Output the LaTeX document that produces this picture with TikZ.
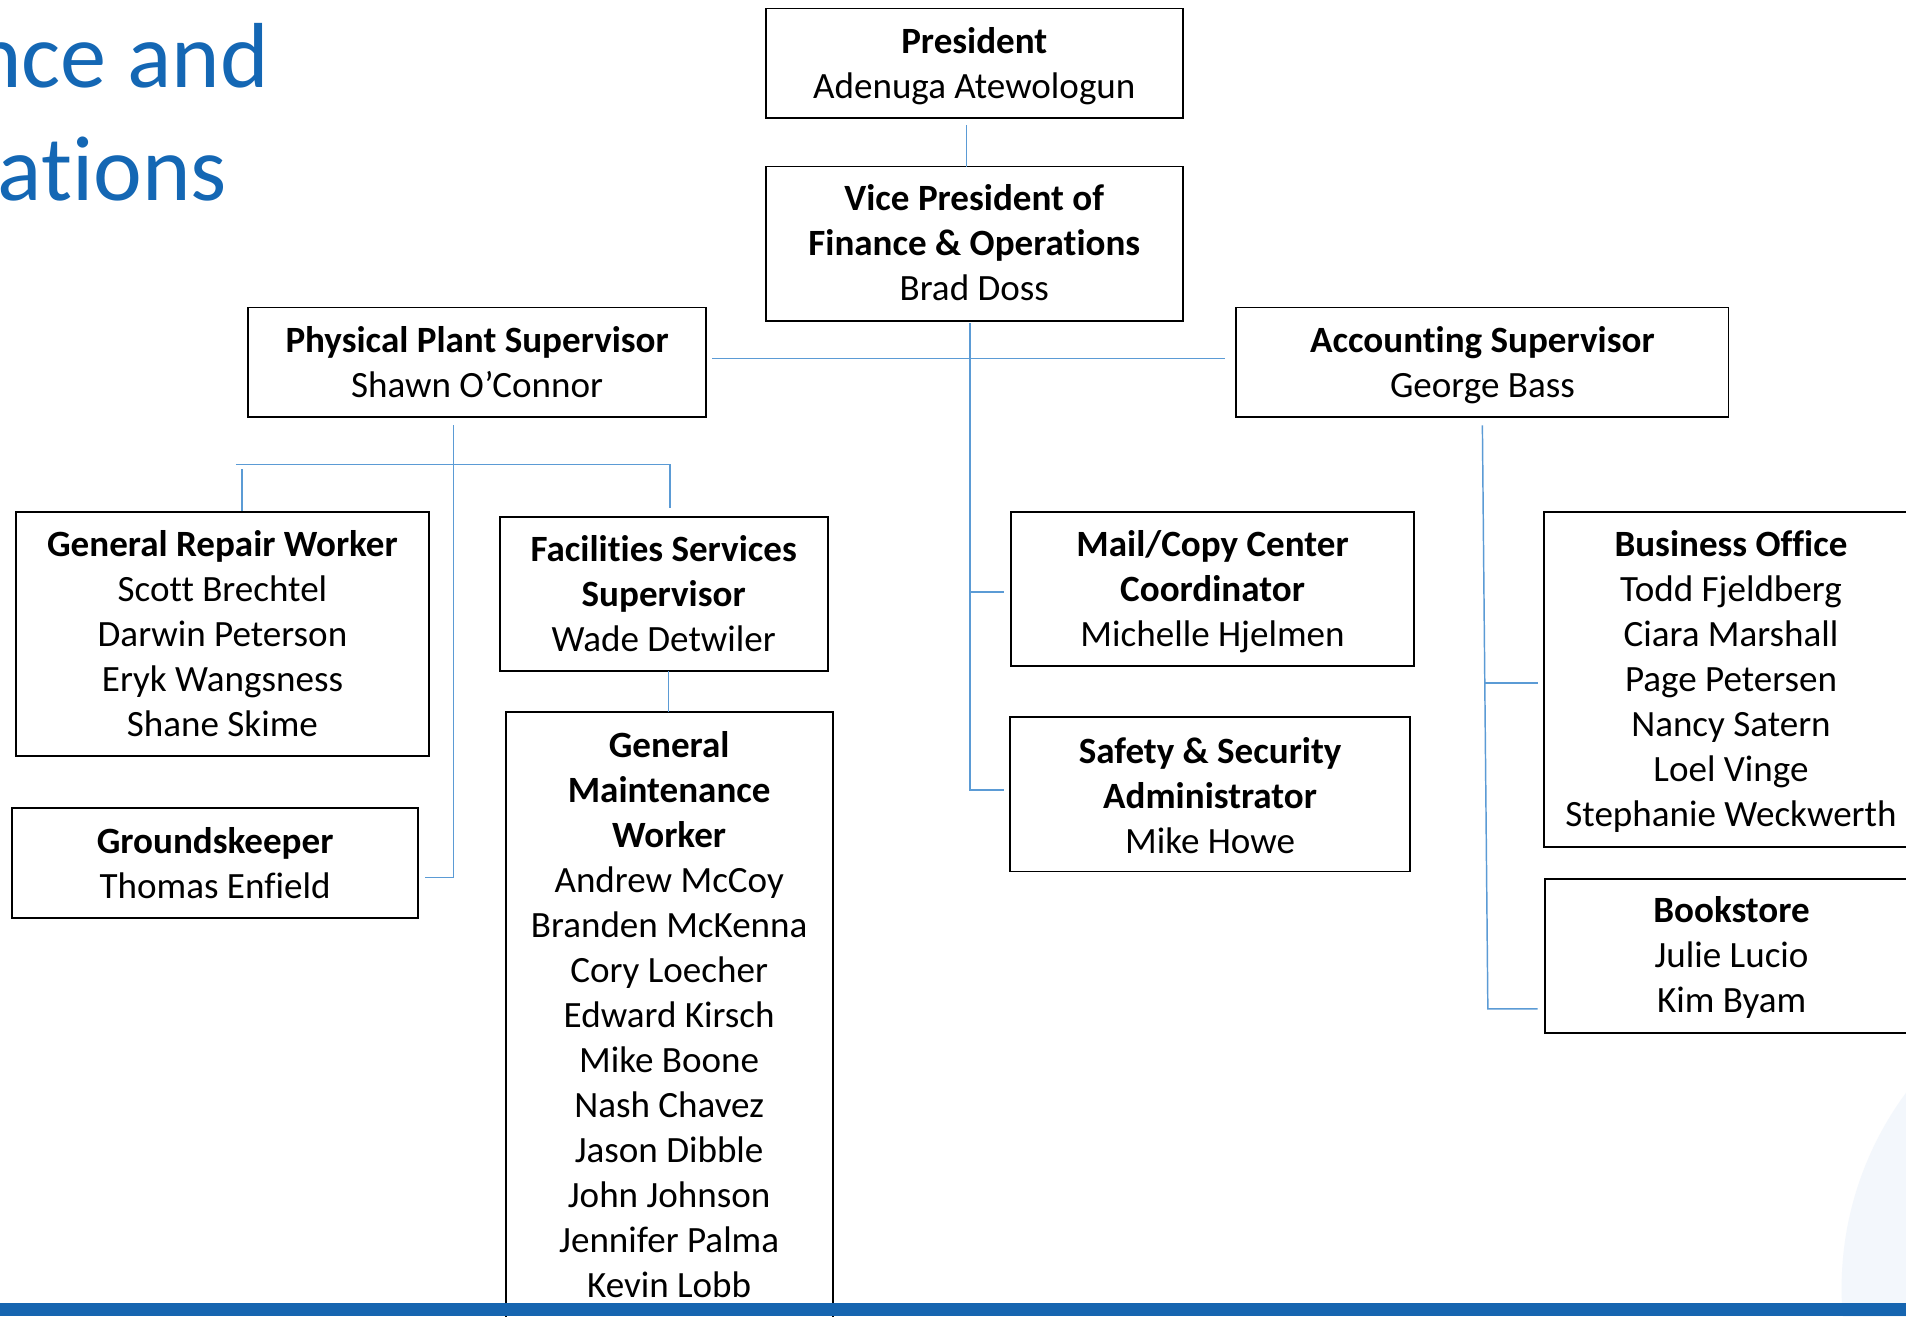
\documentclass[tikz,border=0pt]{standalone}
\usepackage{fontspec}
\setmainfont{Carlito}[Ligatures=NoCommon]
\definecolor{titleblue}{RGB}{20,103,180}
\definecolor{connblue}{RGB}{91,155,213}
\definecolor{barblue}{RGB}{22,101,176}
\definecolor{circlefill}{RGB}{243,247,252}
\newcommand\fl{\rule{0pt}{24pt}}
\begin{document}
\begin{tikzpicture}[x=1pt,y=-1pt,
  orgbox/.style={draw=black, fill=white, line width=1.5pt, rectangle, inner sep=0pt, outer sep=0pt},
  txt/.style={anchor=north, inner sep=0pt, align=center, font=\fontsize{30.5pt}{37pt}\selectfont},
  ttl/.style={anchor=base west, inner sep=0pt, text=titleblue, font=\fontsize{76pt}{90pt}\selectfont},
  conn/.style={draw=connblue, line width=1.2pt}]
\useasboundingbox (0,0) rectangle (1568,1083);
\fill[white] (0,0) rectangle (1568,1083);
\fill[circlefill] (1786,1060) circle (271);

% title
\node[ttl] (t1) at (-151,72) {Finance and};
\node[ttl] (t2) at (-155,165) {Operations};

% boxes
\node[orgbox, minimum width=343, minimum height=90]  (pres)    at (801.5,52) {};
\node[orgbox, minimum width=343, minimum height=127] (vp)      at (801.5,200.5) {};
\node[orgbox, minimum width=377, minimum height=90]  (pps)     at (392.5,298) {};
\node[orgbox, minimum width=405, minimum height=90]  (acc)     at (1219.5,298) {};
\node[orgbox, minimum width=340, minimum height=201] (grw)     at (183,521.5) {};
\node[orgbox, minimum width=334, minimum height=90]  (grounds) at (177,710) {};
\node[orgbox, minimum width=270, minimum height=127] (fss)     at (546,488.5) {};
\node[orgbox, minimum width=269, minimum height=514] (gmw)     at (550.5,843) {};
\node[orgbox, minimum width=331, minimum height=127] (mail)    at (997.5,484.5) {};
\node[orgbox, minimum width=329, minimum height=127] (safety)  at (995.5,653.5) {};
\node[orgbox, minimum width=308, minimum height=276] (bo)      at (1424,559) {};
\node[orgbox, minimum width=307, minimum height=127] (book)    at (1424.5,786.5) {};

% texts
\node[txt] (pres-t) at (801.5,20) {\fl\textbf{President}\\Adenuga Atewologun};
\node[txt] (vp-t) at (801.5,149) {\fl\textbf{Vice President of}\\\textbf{Finance \& Operations}\\Brad Doss};
\node[txt] (pps-t) at (392.5,266) {\fl\textbf{Physical Plant Supervisor}\\Shawn O’Connor};
\node[txt] (acc-t) at (1219.5,266) {\fl\textbf{Accounting Supervisor}\\George Bass};
\node[txt] (grw-t) at (183,434) {\fl\textbf{General Repair Worker}\\Scott Brechtel\\Darwin Peterson\\Eryk Wangsness\\Shane Skime};
\node[txt] (grounds-t) at (177,678) {\fl\textbf{Groundskeeper}\\Thomas Enfield};
\node[txt] (fss-t) at (546,438) {\fl\textbf{Facilities Services}\\\textbf{Supervisor}\\Wade Detwiler};
\node[txt] (gmw-t) at (550.5,599) {\fl\textbf{General}\\\textbf{Maintenance}\\\textbf{Worker}\\Andrew McCoy\\Branden McKenna\\Cory Loecher\\Edward Kirsch\\Mike Boone\\Nash Chavez\\Jason Dibble\\John Johnson\\Jennifer Palma\\Kevin Lobb};
\node[txt] (mail-t) at (997.5,434) {\fl\textbf{Mail/Copy Center}\\\textbf{Coordinator}\\Michelle Hjelmen};
\node[txt] (safety-t) at (995.5,604) {\fl\textbf{Safety \& Security}\\\textbf{Administrator}\\Mike Howe};
\node[txt] (bo-t) at (1424,434) {\fl\textbf{Business Office}\\Todd Fjeldberg\\Ciara Marshall\\Page Petersen\\Nancy Satern\\Loel Vinge\\Stephanie Weckwerth};
\node[txt] (book-t) at (1424.5,735) {\fl\textbf{Bookstore}\\Julie Lucio\\Kim Byam};

% connectors: president / vp
\draw[conn] ([xshift=-6.5pt,yshift=-6pt]pres.south) -- ([xshift=-6.5pt]vp.north);
\coordinate (hl) at (798,295);
\draw[conn] ([xshift=5pt]hl -| pps.east) -- ([xshift=-9pt]hl -| acc.west);
\coordinate (vpbot) at (798,650);
\coordinate (vpm) at (798,487);
\draw[conn] ([xshift=-3.5pt,yshift=-2pt]vp.south) -- (vpbot) -- ([xshift=-5pt]vpbot -| safety.west);
\draw[conn] (vpm) -- ([xshift=-6pt]vpm -| mail.west);

% physical plant subtree
\coordinate (gk) at (373,722);
\draw[conn] ([xshift=-19.5pt,yshift=-7pt]pps.south) -- (gk) -- ([xshift=6pt]gk -| grounds.east);
\coordinate (bl) at (194,382);
\coordinate (br) at (551,382);
\draw[conn] (bl) -- (br) -- ([yshift=7pt]br |- fss.north);
\coordinate (gt) at (199,386);
\draw[conn] (gt) -- ([yshift=1pt]gt |- grw.north);
\draw[conn] ([xshift=4pt]fss.south) -- ([xshift=-0.5pt]gmw.north);

% accounting subtree
\coordinate (ab) at (1224,830);
\coordinate (am) at (1222,562);
\draw[conn] ([yshift=-7pt]acc.south) -- (ab) -- ([xshift=-6pt]ab -| book.west);
\draw[conn] (am) -- ([xshift=-5pt]am -| bo.west);

% bottom bar
\fill[barblue] (0,1072) rectangle (1568,1083);
\end{tikzpicture}
\end{document}
